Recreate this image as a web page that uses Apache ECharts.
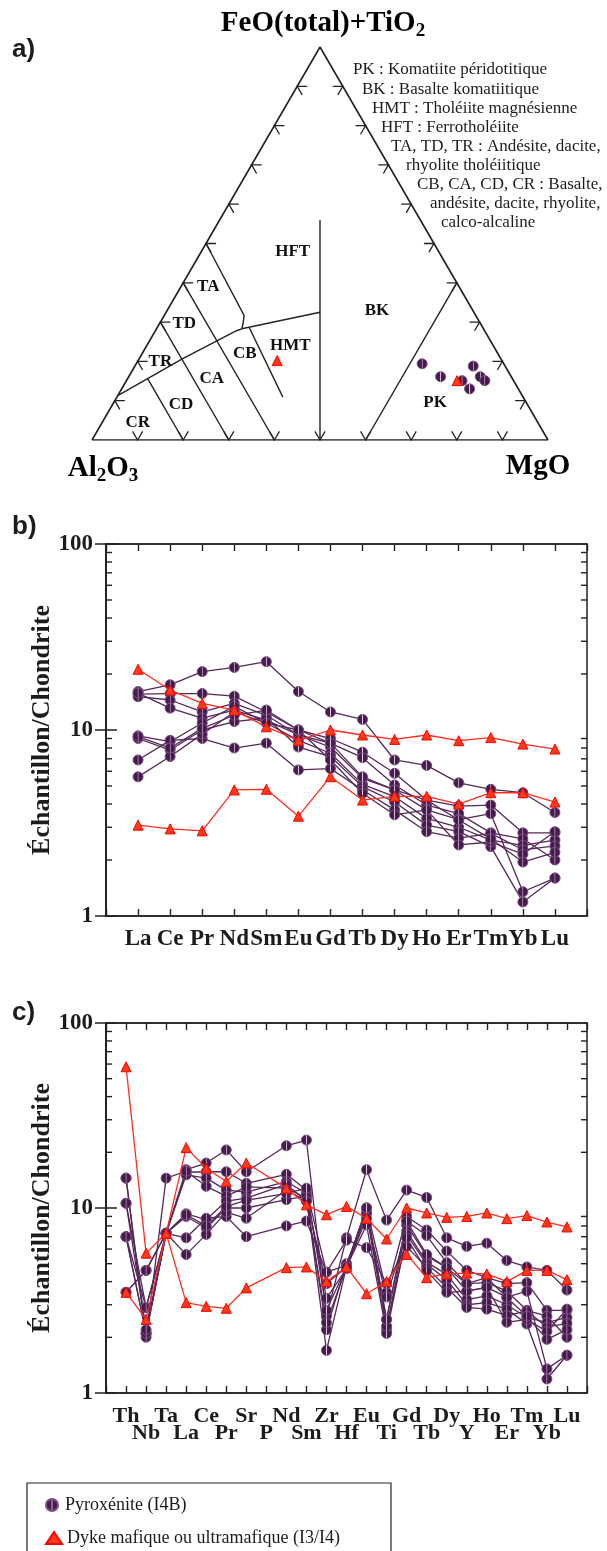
<!DOCTYPE html>
<html><head><meta charset="utf-8">
<script src="https://cdn.jsdelivr.net/npm/echarts@6/dist/echarts.min.js"></script>
<style>html,body{margin:0;padding:0;background:#fff}#c{width:607px;height:1551px}</style>
</head><body><div id="c"></div>
<script>
// ---------- DATA ----------
const reeLabels = ['La','Ce','Pr','Nd','Sm','Eu','Gd','Tb','Dy','Ho','Er','Tm','Yb','Lu'];
const spiderLabels = ['Th','Nb','Ta','La','Ce','Pr','Sr','P','Nd','Sm','Zr','Hf','Eu','Ti','Gd','Tb','Dy','Y','Ho','Er','Tm','Yb','Lu'];
const logTicksMinor = [2,3,4,5,6,7,8,9,20,30,40,50,60,70,80,90];

// REE (chondrite-normalised) – pyroxenite samples (La..Lu)
const pyrREE = [
  [16.1,17.5,20.6,21.7,23.3,16.1,12.5,11.4,6.9,6.45,5.2,4.8,4.6,3.6],
  [15.6,15.7,15.7,15.2,12.5,10.0,9.0,7.6,5.85,4.2,3.9,3.95,2.8,2.8],
  [15.1,14.5,12.5,13.9,12.0,9.4,8.5,7.1,5.06,3.95,3.55,2.8,2.6,2.0],
  [15.8,13.1,11.6,12.8,11.3,9.4,8.1,5.5,4.76,3.72,3.3,3.55,1.35,1.6],
  [9.3,8.65,10.9,13.4,10.9,8.8,7.5,5.1,4.38,3.35,3.0,2.56,2.4,2.56],
  [9.0,7.8,10.0,11.1,11.6,8.1,7.2,4.96,4.1,3.08,2.84,2.36,1.19,1.6],
  [6.9,8.8,9.0,8.0,8.5,6.1,6.2,4.76,3.72,2.84,2.62,2.78,2.27,2.38],
  [5.6,7.2,9.5,12.5,10.9,10.0,6.9,4.57,3.5,3.72,2.41,2.5,2.15,2.84],
  [9.2,8.0,10.2,12.0,12.8,10.0,8.5,5.6,4.76,4.2,3.28,2.6,1.95,2.2]
];
// Extra trace elements – pyroxenite (Th, Nb, Ta, Sr, Zr, Hf, Ti, Y)
const pyrTrace = [
  [14.5,2.1,7.3,15.7,2.6,6.9,8.6,6.2],
  [10.6,2.9,7.3,13.6,4.5,4.9,3.5,4.6],
  [7.0,2.1,7.3,12.2,3.25,4.7,2.5,3.9],
  [14.5,2.0,14.5,13.0,2.2,5.0,2.2,3.55],
  [3.5,4.6,7.3,11.3,3.9,4.8,3.3,3.2],
  [7.0,2.1,7.3,10.0,1.7,4.8,2.1,3.0],
  [3.5,4.6,7.3,7.0,4.5,6.7,3.9,2.9],
  [10.6,2.2,7.3,8.8,2.4,4.8,2.3,3.55],
  [7.0,2.9,7.3,11.0,2.8,4.8,2.5,3.9]
];
// Dykes
const dykeREE = [
  [21.2,16.4,13.9,12.8,10.4,8.8,10.0,9.4,8.9,9.4,8.76,9.1,8.4,7.9],
  [3.08,2.94,2.87,4.76,4.8,3.44,5.61,4.2,4.4,4.4,4.0,4.6,4.6,4.1]
];
const dykeTrace = [
  [58,5.7,7.3,17.5,9.2,10.2,6.8,9.0],
  [3.5,2.5,7.3,3.7,4.0,4.8,4.0,4.45]
];

// Ternary (Al2O3, FeO(t)+TiO2, MgO) in %
const pyrTern = [[17.9,19.4,62.7],[15.5,16.1,68.4],[7.0,18.8,74.2],[11.3,15.1,73.6],[10.7,13.0,76.3],[6.8,16.1,77.1],[6.3,15.1,78.6]];
const dykeTern = [[49.3,20.2,30.5],[12.4,15.1,72.5]];
const ternBoundaries = [
  [[22,56,22],[50,0,50]],
  [[40,0,60],[0,40,60]],
  [[50,50,0],[50.8,31.7,17.5],[52,29.7,18.3],[53,28.3,18.7]],
  [[88.7,11.3,0],[70,20.6,9.4],[54.4,27.8,17.8],[53,28.3,18.7],[33.75,32.5,33.75]],
  [[60,40,0],[60,0,40]],
  [[70,30,0],[70,0,30]],
  [[80,15.6,4.4],[80,0,20]],
  [[51.2,28.7,20.1],[52.7,10.9,36.4]]
];
const regionNames = ['HFT','BK','TA','TD','TR','CR','CD','CA','CB','HMT','PK'];
const regionPos = [[32,48,20],[21,33,46],[55,39,6],[65,29.5,5.5],[75,20,5],[87.7,4.5,7.8],[76,9,15],[66,15.5,18.5],[55.5,22,22.5],[44.5,24,31.5],[20,9.5,70.5]];
const ternTickFractions = [0.1,0.2,0.3,0.4,0.5,0.6,0.7,0.8,0.9];
const ternLegend = ['PK : Komatiite péridotitique','BK : Basalte komatiitique','HMT : Tholéiite magnésienne','HFT : Ferrotholéiite','TA, TD, TR : Andésite, dacite,','rhyolite tholéiitique','CB, CA, CD, CR : Basalte,','andésite, dacite, rhyolite,','calco-alcaline'];

// ---------- HELPERS ----------
const serif = "'Liberation Serif','Times New Roman',serif";
const sans = "'Liberation Sans',Arial,sans-serif";
const ink = '#1c1c1c';
const purple = '#55275a', red = '#ff2d1a';
const purpleFill = {type:'linear',x:0,y:0,x2:1,y2:0,colorStops:[
  {offset:0,color:'#3f1745'},{offset:0.44,color:'#4a1d50'},{offset:0.5,color:'#e8d8ea'},{offset:0.56,color:'#4a1d50'},{offset:1,color:'#3f1745'}]};
const PYR = 'Pyroxénite (I4B)', DYK = 'Dyke mafique ou ultramafique (I3/I4)';

function tern(c){ const f=c[1]/100, m=c[2]/100; return [m+f/2, f]; }
function spiderRow(ree,tr){
  const [La,Ce,Pr,Nd,Sm,Eu,Gd,Tb,Dy,Ho,Er,Tm,Yb,Lu]=ree;
  const [Th,Nb,Ta,Sr,Zr,Hf,Ti,Y]=tr;
  return [Th,Nb,Ta,La,Ce,Pr,Sr,null,Nd,Sm,Zr,Hf,Eu,Ti,Gd,Tb,Dy,Y,Ho,Er,Tm,Yb,Lu];
}
function toXY(row){ return row.map((v,i)=>[i+1,v]).filter(d=>d[1]!=null); }
const pyrItem = {color:purpleFill,borderColor:'#7d4d85',borderWidth:1,opacity:1};
const dykItem = {color:'#ff3a1a',borderColor:'#ff0000',borderWidth:1,opacity:1};
function spLine(name,data,xi,yi,dyke){
  return {type:'line',name,xAxisIndex:xi,yAxisIndex:yi,data,
    symbol:dyke?'triangle':'circle',symbolSize:10,
    lineStyle:{color:dyke?red:purple,width:1.3},
    itemStyle:dyke?dykItem:pyrItem,
    z:dyke?4:3,silent:true};
}
function minorTickSeries(xi,yi){
  return {type:'custom',xAxisIndex:xi,yAxisIndex:yi,silent:true,z:5,
    data:logTicksMinor.map(v=>[1,v]),
    renderItem:(params,api)=>{
      const cs=params.coordSys; const y=api.coord([1,api.value(1)])[1];
      return {type:'group',children:[
        {type:'line',shape:{x1:cs.x,y1:y,x2:cs.x+6,y2:y},style:{stroke:'#222',lineWidth:1.4}},
        {type:'line',shape:{x1:cs.x+cs.width-6,y1:y,x2:cs.x+cs.width,y2:y},style:{stroke:'#222',lineWidth:1.4}}
      ]};
    }};
}
function catXAxis(grid,max,labels,pos,showLabel,fs,lh,margin){
  return {type:'value',gridIndex:grid,min:0,max:max,interval:1,position:pos,
    axisLine:{show:true,lineStyle:{color:'#222',width:1.5}},
    axisTick:{show:true,inside:true,length:7,lineStyle:{color:'#222',width:1.4}},
    splitLine:{show:false},
    axisLabel:{show:showLabel,margin:margin,fontFamily:serif,fontWeight:'bold',fontSize:fs,lineHeight:lh,color:ink,
      formatter:(v)=>{const i=Math.round(v); if(i<1||i>labels.length) return ''; const n=labels[i-1]; return (max>20 && i%2===0)?'\n'+n:n;}}};
}
function logYAxis(grid,pos,showLabel,name){
  const ax={type:'log',logBase:10,gridIndex:grid,min:1,max:100,position:pos,
    axisLine:{show:true,lineStyle:{color:'#222',width:1.5}},
    axisTick:{show:true,inside:true,length:11,lineStyle:{color:'#222',width:1.5}},
    minorTick:{show:false},splitLine:{show:false},
    axisLabel:{show:showLabel,margin:13,fontFamily:serif,fontWeight:'bold',fontSize:23,color:ink,formatter:v=>String(v)}};
  if(name){ax.name=name;ax.nameLocation='middle';ax.nameGap=51;ax.nameMoveOverlap=false;
    ax.nameTextStyle={fontFamily:serif,fontWeight:'bold',fontSize:26,color:ink};}
  return ax;
}

// ---------- SERIES ----------
const series=[];
series.push({type:'line',xAxisIndex:0,yAxisIndex:0,data:[[0,0],[0.5,1],[1,0],[0,0]],symbol:'none',lineStyle:{color:'#222',width:1.6},silent:true});
ternBoundaries.forEach(b=>series.push({type:'line',xAxisIndex:0,yAxisIndex:0,data:b.map(tern),symbol:'none',lineStyle:{color:'#222',width:1.4},silent:true}));
const tickData=[]; ternTickFractions.forEach(t=>{tickData.push([t,t,0]);tickData.push([t,t,1]);tickData.push([t,t,2]);});
series.push({type:'custom',xAxisIndex:0,yAxisIndex:0,silent:true,data:tickData,encode:{x:0,y:1},
  renderItem:(params,api)=>{
    const t=api.value(1), e=api.value(2), s=0.022; let v,a1,a2;
    if(e===0){v=[1-t,t,0];a1=[1-t-s,t,s];a2=[1-t,t-s,s];}
    else if(e===1){v=[0,t,1-t];a1=[s,t,1-t-s];a2=[s,t-s,1-t];}
    else {v=[1-t,0,t];a1=[1-t-s,s,t];a2=[1-t,s,t-s];}
    const P=c=>api.coord([c[2]+c[1]/2,c[1]]);
    return {type:'polyline',shape:{points:[P(a1),P(v),P(a2)]},style:{stroke:'#222',lineWidth:1.3,fill:'none'}};
  }});
series.push({type:'scatter',xAxisIndex:0,yAxisIndex:0,symbolSize:0,silent:true,itemStyle:{opacity:1},
  data:regionNames.map((n,i)=>({name:n,value:tern(regionPos[i])})),
  label:{show:true,position:'inside',formatter:'{b}',fontFamily:serif,fontWeight:'bold',fontSize:17,color:'#111',opacity:1,textBorderWidth:0,textBorderColor:'transparent'}});
series.push({type:'scatter',name:PYR,xAxisIndex:0,yAxisIndex:0,data:pyrTern.map(tern),symbol:'circle',symbolSize:10,itemStyle:pyrItem,silent:true,z:5});
series.push({type:'scatter',name:DYK,xAxisIndex:0,yAxisIndex:0,data:dykeTern.map(tern),symbol:'triangle',symbolSize:10,itemStyle:dykItem,silent:true,z:6});

pyrREE.forEach(r=>series.push(spLine(PYR,toXY(r),1,1,false)));
dykeREE.forEach(r=>series.push(spLine(DYK,toXY(r),1,1,true)));
series.push(minorTickSeries(1,1));
pyrREE.forEach((r,i)=>series.push(spLine(PYR,toXY(spiderRow(r,pyrTrace[i])),3,3,false)));
dykeREE.forEach((r,i)=>series.push(spLine(DYK,toXY(spiderRow(r,dykeTrace[i])),3,3,true)));
series.push(minorTickSeries(3,3));

// ---------- TEXT ----------
const richSub={m:{fontFamily:serif,fontWeight:'bold',fontSize:29,lineHeight:34,color:ink},s:{fontFamily:serif,fontWeight:'bold',fontSize:19,lineHeight:19,verticalAlign:'bottom',color:ink}};
const graphic=[
  {type:'text',x:323,y:24,style:{text:'{m|FeO(total)+TiO}{s|2}',rich:richSub,align:'center',verticalAlign:'middle'}},
  {type:'text',x:103,y:469,style:{text:'{m|Al}{s|2}{m|O}{s|3}',rich:richSub,align:'center',verticalAlign:'middle'}},
  {type:'text',x:538,y:467,style:{text:'{m|MgO}',rich:richSub,align:'center',verticalAlign:'middle'}},
  {type:'text',x:12,y:50,style:{text:'a)',font:"bold 26px "+sans,fill:ink,verticalAlign:'middle'}},
  {type:'text',x:12,y:527,style:{text:'b)',font:"bold 26px "+sans,fill:ink,verticalAlign:'middle'}},
  {type:'text',x:12,y:1013,style:{text:'c)',font:"bold 26px "+sans,fill:ink,verticalAlign:'middle'}},
  {type:'rect',shape:{x:27,y:1483,width:364,height:90},style:{fill:'none',stroke:'#222',lineWidth:1.2}}
];
const legX=[353,362,372,381,391,406,417,430,441];
ternLegend.forEach((t,i)=>graphic.push({type:'text',x:legX[i],y:70+19.1*i,style:{text:t,font:"17px "+serif,fill:ink,verticalAlign:'middle'}}));

const legendCommon={orient:'vertical',left:40,itemWidth:16,itemHeight:12,selectedMode:false,textStyle:{fontFamily:serif,fontSize:18,color:ink}};
const option={
  animation:false,
  backgroundColor:'#fff',
  grid:[
    {left:92,top:47,width:456,height:393,show:false},
    {left:106,top:544,width:481,height:372,show:true,borderColor:'#222',borderWidth:1.5},
    {left:106,top:1023,width:481,height:370,show:true,borderColor:'#222',borderWidth:1.5}
  ],
  xAxis:[
    {type:'value',gridIndex:0,min:0,max:1,show:false},
    catXAxis(1,15,reeLabels,'bottom',true,23,23,12),
    catXAxis(1,15,reeLabels,'top',false,23,23,12),
    catXAxis(2,24,spiderLabels,'bottom',true,22,17,15),
    catXAxis(2,24,spiderLabels,'top',false,22,17,15)
  ],
  yAxis:[
    {type:'value',gridIndex:0,min:0,max:1,show:false},
    logYAxis(1,'left',true,'Échantillon/Chondrite'),
    logYAxis(1,'right',false),
    logYAxis(2,'left',true,'Échantillon/Chondrite'),
    logYAxis(2,'right',false)
  ],
  legend:[
    Object.assign({top:1491,data:[{name:PYR,icon:'circle'}]},legendCommon),
    Object.assign({top:1524,data:[{name:DYK,icon:'triangle'}]},legendCommon)
  ],
  graphic:graphic,
  series:series
};
const chart=echarts.init(document.getElementById('c'),null,{renderer:'canvas'});
chart.setOption(option);
</script></body></html>
